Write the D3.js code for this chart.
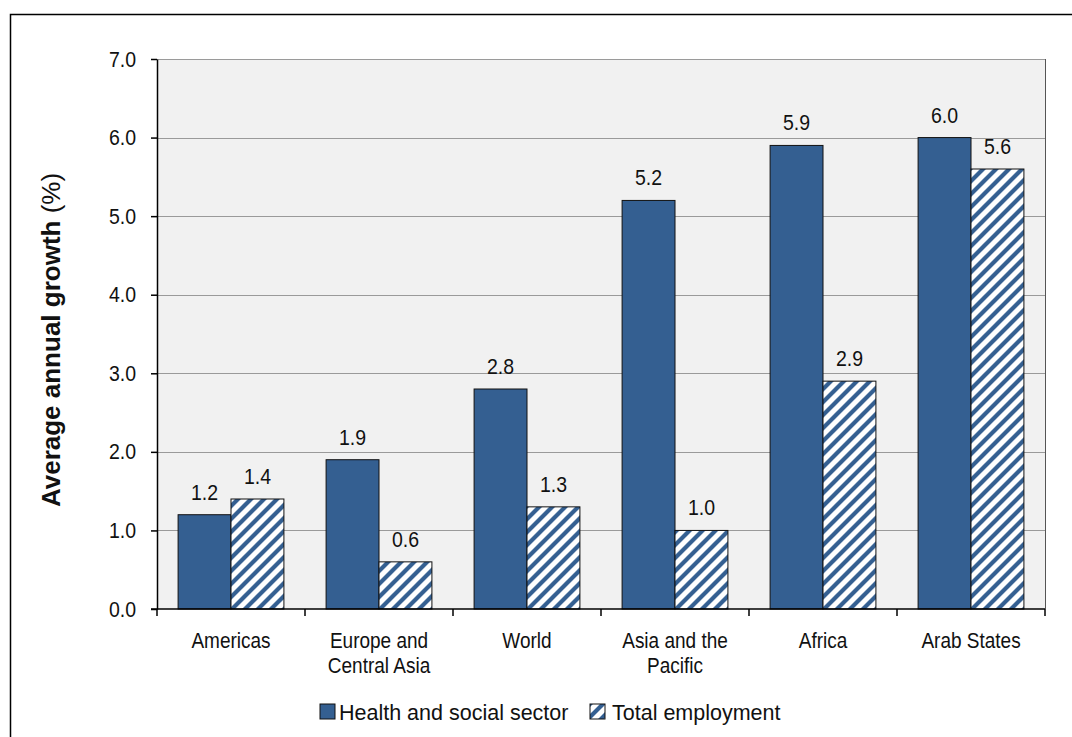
<!DOCTYPE html>
<html>
<head>
<meta charset="utf-8">
<script src="https://cdn.jsdelivr.net/npm/d3@7"></script>
<style>
  body { margin: 0; background: #fff; }
  svg { display: block; font-family: "Liberation Sans", Arial, sans-serif; }
</style>
</head>
<body>
<div id="chart"></div>
<script>
// chart data
const categories = [['Americas'], ['Europe and', 'Central Asia'], ['World'], ['Asia and the', 'Pacific'], ['Africa'], ['Arab States']];
const healthSector = [1.2, 1.9, 2.8, 5.2, 5.9, 6.0];
const totalEmployment = [1.4, 0.6, 1.3, 1.0, 2.9, 5.6];
const yTicks = [0, 1, 2, 3, 4, 5, 6, 7];
const seriesNames = ['Health and social sector', 'Total employment'];

const width = 1072;
const height = 737;
const margin = { left: 157, right: 27, top: 59, bottom: 128 };
const blue = '#345f91';
const font = '"Liberation Sans", Arial, sans-serif';
const stretch = 'scale(1,1.13)'; // text in the original is a bit tall

const svg = d3.select('#chart')
  .append('svg')
  .attr('width', width)
  .attr('height', height);

// hatch pattern for total employment
const pat = svg.append('defs')
  .append('pattern')
  .attr('id', 'hatch')
  .attr('patternUnits', 'userSpaceOnUse')
  .attr('width', 13)
  .attr('height', 13);
pat.append('rect').attr('width', 13).attr('height', 13).attr('fill', '#fff');
pat.append('path')
  .attr('d', 'M-3,16 L16,-3 M-3,3 L3,-3 M10,16 L16,10')
  .attr('stroke', blue)
  .attr('stroke-width', 4.2);

// outer frame
svg.append('rect')
  .attr('x', 10.5).attr('y', 14.5)
  .attr('width', 1100).attr('height', 800)
  .attr('fill', 'none')
  .attr('stroke', '#000')
  .attr('stroke-width', 1.5);

const x = d3.scaleBand()
  .domain(d3.range(categories.length))
  .range([margin.left, width - margin.right])
  .paddingInner(0.285)
  .paddingOuter(0.1425);

const xSub = d3.scaleBand()
  .domain([0, 1])
  .range([0, x.bandwidth()]);

const y = d3.scaleLinear()
  .domain([0, 7])
  .range([height - margin.bottom, margin.top]);

// plot background
svg.append('rect')
  .attr('x', margin.left)
  .attr('y', margin.top)
  .attr('width', width - margin.right - margin.left)
  .attr('height', y(0) - margin.top)
  .attr('fill', '#f1f1f1');

// gridlines
svg.append('g')
  .selectAll('line')
  .data(yTicks.slice(1))
  .enter()
  .append('line')
  .attr('x1', margin.left)
  .attr('x2', width - margin.right)
  .attr('y1', (d) => Math.round(y(d)) + 0.5)
  .attr('y2', (d) => Math.round(y(d)) + 0.5)
  .attr('stroke', '#9a9a9a')
  .attr('stroke-width', 1);

// right border of plot
svg.append('line')
  .attr('x1', width - margin.right + 0.5)
  .attr('x2', width - margin.right + 0.5)
  .attr('y1', margin.top)
  .attr('y2', y(0))
  .attr('stroke', '#555')
  .attr('stroke-width', 1);

const groups = svg.append('g')
  .selectAll('g')
  .data(categories)
  .enter()
  .append('g')
  .attr('transform', (d, i) => `translate(${x(i)},0)`);

const series = [healthSector, totalEmployment];
series.forEach((vals, s) => {
  groups.append('rect')
    .attr('x', xSub(s))
    .attr('y', (d, i) => y(vals[i]))
    .attr('width', xSub.bandwidth())
    .attr('height', (d, i) => y(0) - y(vals[i]))
    .attr('fill', s === 0 ? blue : 'url(#hatch)')
    .attr('stroke', '#111')
    .attr('stroke-width', 1);

  groups.append('text')
    .attr('transform', (d, i) =>
      `translate(${xSub(s) + xSub.bandwidth() / 2},${y(vals[i]) - 15}) ${stretch}`)
    .attr('text-anchor', 'middle')
    .attr('font-size', 19.5)
    .attr('fill', '#111')
    .text((d, i) => vals[i].toFixed(1));
});

// y axis
const yAxis = svg.append('g')
  .attr('transform', `translate(${margin.left},0)`)
  .call(d3.axisLeft(y).tickValues(yTicks).tickFormat(d3.format('.1f')).tickSize(6).tickSizeOuter(0));
yAxis.select('.domain').attr('stroke', '#000').attr('stroke-width', 1.5);
yAxis.selectAll('.tick line').attr('stroke', '#000').attr('stroke-width', 1.5);
yAxis.selectAll('.tick text')
  .attr('font-size', 19.5)
  .attr('font-family', font)
  .attr('fill', '#111')
  .attr('x', 0)
  .attr('transform', `translate(-21,0) ${stretch}`);

// x axis
const xAxisG = svg.append('g');
xAxisG.append('line')
  .attr('x1', margin.left - 6)
  .attr('x2', width - margin.right)
  .attr('y1', y(0))
  .attr('y2', y(0))
  .attr('stroke', '#000')
  .attr('stroke-width', 1.5);
const step = x.step();
xAxisG.selectAll('line.tk')
  .data(d3.range(categories.length + 1))
  .enter()
  .append('line')
  .attr('class', 'tk')
  .attr('x1', (d) => margin.left + d * step)
  .attr('x2', (d) => margin.left + d * step)
  .attr('y1', y(0))
  .attr('y2', y(0) + 7)
  .attr('stroke', '#000')
  .attr('stroke-width', 1.5);

xAxisG.selectAll('g.cat')
  .data(categories)
  .enter()
  .append('g')
  .attr('class', 'cat')
  .selectAll('text')
  .data((d, i) => d.map((line) => ({ line, i })))
  .enter()
  .append('text')
  .attr('transform', (d, j) =>
    `translate(${x(d.i) + x.bandwidth() / 2},${y(0) + 39 + j * 25}) ${stretch}`)
  .attr('text-anchor', 'middle')
  .attr('font-size', 19)
  .attr('fill', '#111')
  .text((d) => d.line);

// y axis title
svg.append('text')
  .attr('transform', 'translate(60,340) rotate(-90)')
  .attr('text-anchor', 'middle')
  .attr('font-size', 26)
  .attr('fill', '#111')
  .call((t) => {
    t.append('tspan').attr('font-weight', 'bold').text('Average annual growth ');
    t.append('tspan').text('(%)');
  });

// legend
const legendX = [320, 590];
seriesNames.forEach((name, s) => {
  const g = svg.append('g').attr('transform', `translate(${legendX[s]},704)`);
  g.append('rect')
    .attr('width', 15)
    .attr('height', 15)
    .attr('fill', s === 0 ? blue : 'url(#hatch)')
    .attr('stroke', '#111')
    .attr('stroke-width', 1);
  g.append('text')
    .attr('x', s === 0 ? 19 : 22)
    .attr('y', 16)
    .attr('font-size', 21.5)
    .attr('fill', '#111')
    .text(name);
});
</script>
</body>
</html>
